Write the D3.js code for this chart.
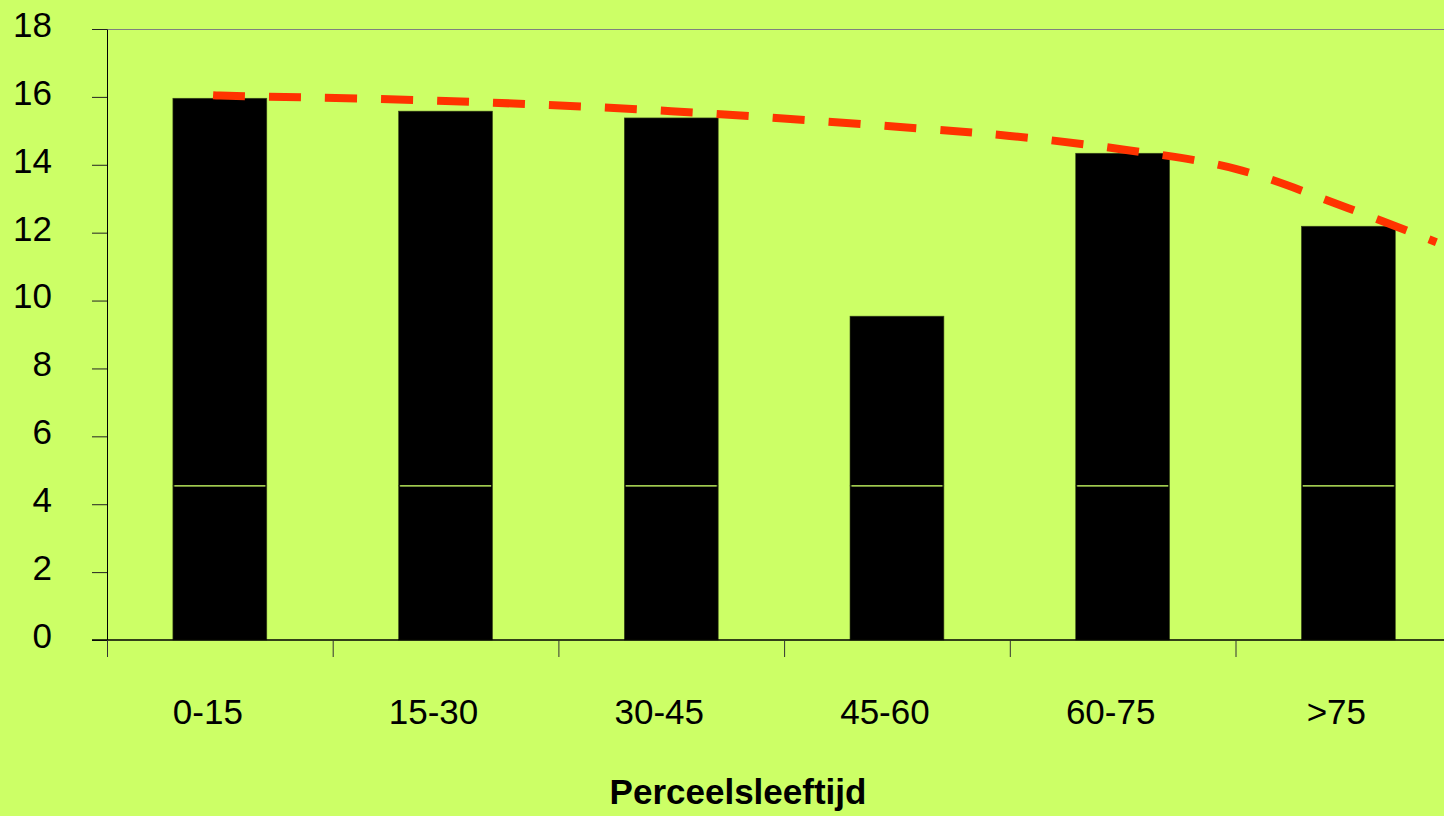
<!DOCTYPE html>
<html>
<head>
<meta charset="utf-8">
<script src="https://cdn.jsdelivr.net/npm/d3@7"></script>
<style>
  html, body { margin: 0; padding: 0; background: #CCFF66; overflow: hidden; }
  svg { display: block; font-family: "Liberation Sans", Arial, sans-serif; }
</style>
</head>
<body>
<svg id="chart" width="1444" height="816"></svg>
<script>
// ---- data ----
const categories = ["0-15", "15-30", "30-45", "45-60", "60-75", ">75"];
const baseValues = [4.54, 4.54, 4.54, 4.54, 4.54, 4.54];
const totalValues = [15.96, 15.58, 15.38, 9.54, 14.34, 12.19];
const yTicks = [0, 2, 4, 6, 8, 10, 12, 14, 16, 18];
// trend line: position in category units (0 = left edge of first category) and value
const trendPos = [0.47, 0.5, 1.5, 2.5, 3.5, 4.0, 4.5, 5.0, 5.5, 5.89];
const trendVal = [16.05, 16.04, 15.88, 15.58, 15.12, 14.85, 14.45, 13.88, 12.72, 11.72];
const xTitle = "Perceelsleeftijd";

// ---- layout ----
const svg = d3.select("#chart");
const mLeft = 107, mTop = 29, mBottom = 640;
const step = 225.7;
const mRight = mLeft + step * categories.length;
const fontSize = 35;

const x = d3.scaleBand().domain(categories).range([mLeft, mRight])
  .paddingInner(0.584).paddingOuter(0.292);
const xu = d3.scaleLinear().domain([0, categories.length]).range([mLeft, mRight]);
const y = d3.scaleLinear().domain([0, 18]).range([mBottom, mTop]);

// plot frame (top border)
svg.append("line").attr("x1", mLeft).attr("x2", mRight).attr("y1", mTop + 0.5).attr("y2", mTop + 0.5)
  .attr("stroke", "#808080").attr("stroke-width", 1);
svg.append("line").attr("x1", mRight).attr("x2", mRight).attr("y1", mTop).attr("y2", mBottom)
  .attr("stroke", "#808080").attr("stroke-width", 1);

// bars (stacked: base + remainder)
const stackData = categories.map((c, i) => ({ c, base: baseValues[i], rest: totalValues[i] - baseValues[i] }));
const series = d3.stack().keys(["base", "rest"])(stackData);
const g = svg.append("g");
series.forEach(s => {
  g.selectAll(null).data(s).enter().append("rect")
    .attr("x", d => x(d.data.c))
    .attr("width", x.bandwidth())
    .attr("y", d => y(d[1]))
    .attr("height", d => y(d[0]) - y(d[1]))
    .attr("fill", "#000000")
    .attr("stroke", "#3a4a1a").attr("stroke-width", 0.6);
});
// separator line between stacked segments
g.selectAll(null).data(stackData).enter().append("line")
  .attr("x1", d => x(d.c) + 1.5).attr("x2", d => x(d.c) + x.bandwidth() - 1.5)
  .attr("y1", d => y(d.base)).attr("y2", d => y(d.base))
  .attr("stroke", "#CCFF66").attr("stroke-width", 1.2);

// trend line
const trend = trendPos.map((p, i) => [p, trendVal[i]]);
svg.append("path").datum(trend)
  .attr("d", d3.line().x(d => xu(d[0])).y(d => y(d[1])).curve(d3.curveCatmullRom.alpha(0.5)))
  .attr("fill", "none").attr("stroke", "#FF3300").attr("stroke-width", 8)
  .attr("stroke-dasharray", "32,24");

// y axis
const yAxis = svg.append("g").attr("transform", `translate(${mLeft},0)`)
  .call(d3.axisLeft(y).tickValues(yTicks).tickSize(15).tickSizeOuter(0).tickPadding(40).tickFormat(d3.format("d")));
yAxis.select(".domain").attr("stroke", "#000");
yAxis.selectAll(".tick line").attr("stroke", "#222");
yAxis.selectAll("text").attr("font-size", fontSize).attr("fill", "#000").attr("dy", "0.21em")
  .attr("font-family", "'Liberation Sans', Arial, sans-serif");

// x axis line
svg.append("line").attr("x1", mLeft - 15).attr("x2", mRight).attr("y1", mBottom).attr("y2", mBottom)
  .attr("stroke", "#000").attr("stroke-width", 1.5);
// x boundary ticks
const xTickAxis = svg.append("g").attr("transform", `translate(0,${mBottom})`)
  .call(d3.axisBottom(xu).tickValues(d3.range(categories.length + 1)).tickSize(17).tickFormat(""));
xTickAxis.select(".domain").remove();
xTickAxis.selectAll(".tick line").attr("stroke", "#333");
// x labels
const xLab = svg.append("g").attr("transform", `translate(0,${mBottom})`)
  .call(d3.axisBottom(x).tickSize(0).tickPadding(59));
xLab.select(".domain").remove();
xLab.selectAll("text").attr("font-size", fontSize).attr("fill", "#000").attr("dx", -12)
  .attr("font-family", "'Liberation Sans', Arial, sans-serif");

// axis title
svg.append("text").attr("x", 738).attr("y", 804).attr("text-anchor", "middle")
  .attr("font-size", fontSize).attr("font-weight", "bold").attr("fill", "#000").text(xTitle);
</script>
</body>
</html>
